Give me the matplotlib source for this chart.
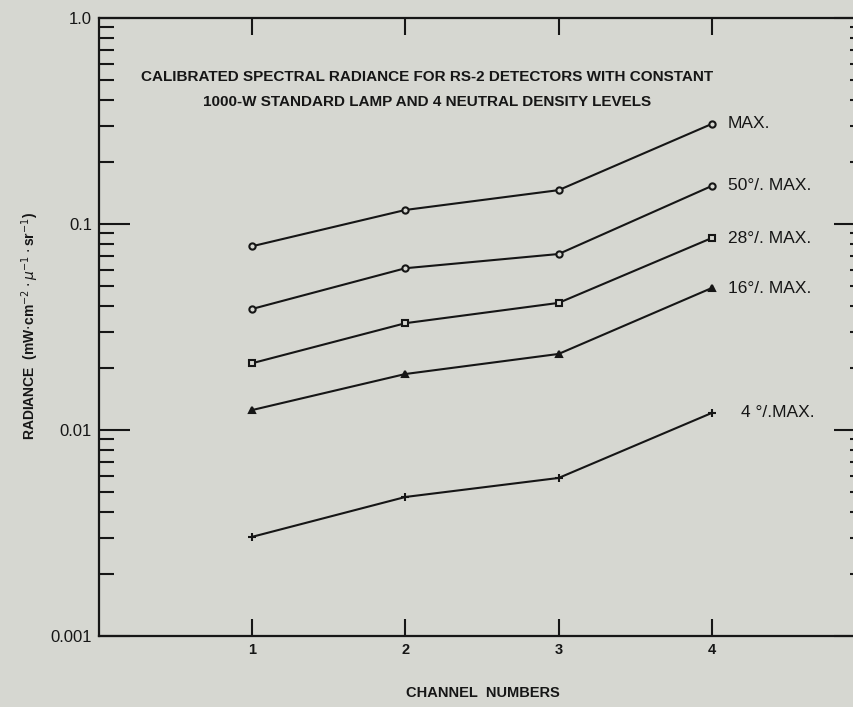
import matplotlib
matplotlib.use("Agg")
import matplotlib.pyplot as plt
from matplotlib.ticker import FixedLocator, FixedFormatter, LogLocator, NullFormatter

channels = [1, 2, 3, 4]
max_100 = [0.078, 0.117, 0.146, 0.306]
max_50 = [0.0387, 0.061, 0.0715, 0.153]
max_28 = [0.0211, 0.033, 0.0414, 0.0855]
max_16 = [0.0125, 0.0187, 0.0234, 0.0489]
max_4 = [0.00303, 0.00473, 0.00585, 0.0121]
series_labels = ["MAX.", "50°/. MAX.", "28°/. MAX.", "16°/. MAX.", "4 °/.MAX."]
ytick_vals = [0.001, 0.01, 0.1, 1.0]
ytick_labels = ["0.001", "0.01", "0.1", "1.0"]
title_lines = ["CALIBRATED SPECTRAL RADIANCE FOR RS-2 DETECTORS WITH CONSTANT",
               "1000-W STANDARD LAMP AND 4 NEUTRAL DENSITY LEVELS"]

bg = "#d6d7d1"
ink = "#161616"
font = ["Liberation Sans", "DejaVu Sans"]
plt.rcParams["font.family"] = font

fig = plt.figure(figsize=(8.54, 7.07), dpi=100, facecolor=bg)
ax = fig.add_axes([99/854, 71/707, (865-99)/854, (636-18)/707])
ax.set_facecolor(bg)
ax.set_yscale("log")
ax.set_xlim(0, 5)
ax.set_ylim(0.001, 1.0)

series = [max_100, max_50, max_28, max_16, max_4]
markers = [("o", 4.5, "none"), ("o", 4.5, "none"), ("s", 4.5, "none"), ("^", 4.5, ink), ("+", 6, ink)]
for vals, (m, ms, fc), lab in zip(series, markers, series_labels):
    ax.plot(channels, vals, color=ink, lw=1.5, marker=m, ms=ms, mfc=fc if fc != "none" else bg,
            mec=ink, mew=1.5, clip_on=False)
    dx = 29 if lab.startswith("4") else 16
    ax.annotate(lab, (channels[-1], vals[-1]), xytext=(dx, 0), textcoords="offset pixels",
                va="center", ha="left", fontsize=12.5, color=ink)

for spine in ax.spines.values():
    spine.set_color(ink)
    spine.set_linewidth(1.6)

ax.xaxis.set_major_locator(FixedLocator(channels))
ax.xaxis.set_major_formatter(FixedFormatter([str(c) for c in channels]))
ax.tick_params(axis="x", which="major", direction="in", top=True, bottom=True,
               length=12.5, width=1.5, color=ink, labelsize=10.5, labelcolor=ink, pad=5)
ax.tick_params(axis="x", which="minor", bottom=False, top=False)
for t in ax.get_xticklabels():
    t.set_fontweight("bold")

ax.yaxis.set_major_locator(FixedLocator(ytick_vals))
ax.yaxis.set_major_formatter(FixedFormatter(ytick_labels))
ax.yaxis.set_minor_locator(LogLocator(base=10, subs=range(2, 10)))
ax.yaxis.set_minor_formatter(NullFormatter())
ax.tick_params(axis="y", which="major", direction="in", left=True, right=True,
               length=22, width=1.5, color=ink, labelsize=12, labelcolor=ink, pad=5)
ax.tick_params(axis="y", which="minor", direction="in", left=True, right=True,
               length=11, width=1.5, color=ink)

ax.text(2.14, 0.52, title_lines[0], ha="center", va="center", fontsize=11,
        fontweight="bold", color=ink)
ax.text(2.14, 0.39, title_lines[1], ha="center", va="center", fontsize=11,
        fontweight="bold", color=ink)

fig.text(483/854, 1 - 693/707, "CHANNEL  NUMBERS", ha="center", va="center",
         fontsize=10.5, fontweight="bold", color=ink)
fig.text(30/854, 1 - 326/707,
         r"RADIANCE  (mW$\cdot$cm$^{-2}\cdot\mu^{-1}\cdot$sr$^{-1}$)",
         rotation=90, ha="center", va="center", fontsize=10, fontweight="bold", color=ink)

fig.savefig("out.png", dpi=100, facecolor=bg)
